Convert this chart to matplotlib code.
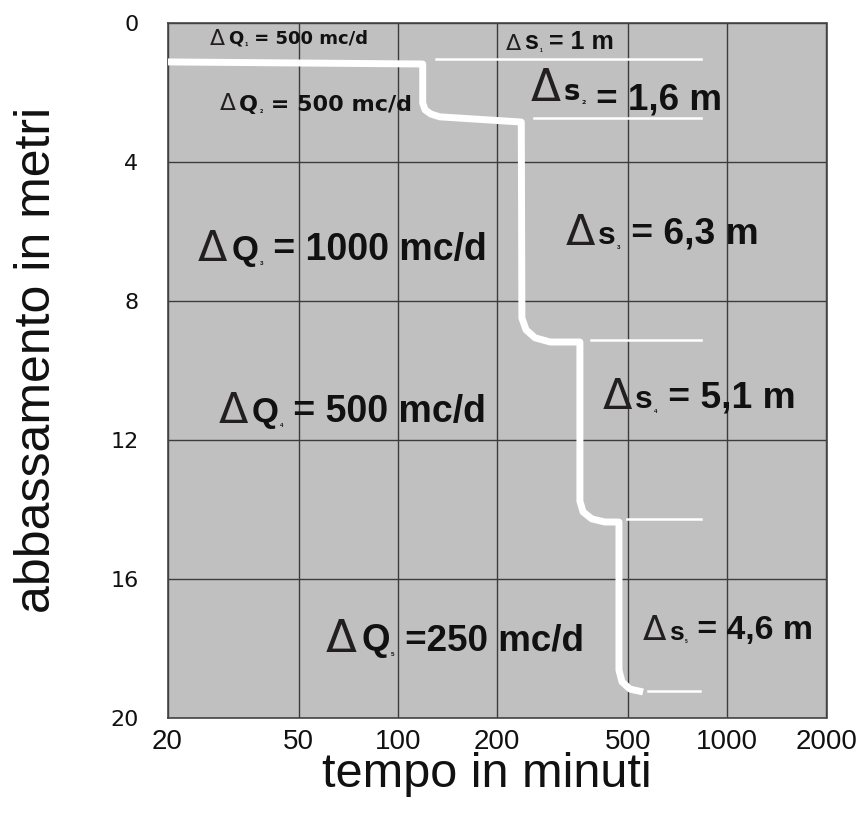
import numpy as np
import matplotlib.pyplot as plt
from matplotlib.ticker import FixedLocator, FixedFormatter, NullLocator

# stepped drawdown curve (tempo in minuti, abbassamento in metri)
tempo = [20, 119, 119, 121, 126, 134, 237, 238, 245, 261, 290, 357, 357, 365, 388, 425,
         469, 469, 479, 507, 555]
abbass = [1.12, 1.18, 2.30, 2.50, 2.62, 2.70, 2.85, 8.49, 8.83, 9.06, 9.18, 9.18, 13.76,
          14.07, 14.27, 14.36, 14.36, 18.62, 18.96, 19.17, 19.25]

# reference lines for each drawdown step
ds_start = [131, 259, 386, 496, 574]
ds_end = [832, 832, 832, 832, 826]
ds_level = [1.04, 2.73, 9.12, 14.27, 19.22]

x_ticks = [20, 50, 100, 200, 500, 1000, 2000]
y_ticks = [0, 4, 8, 12, 16, 20]

dq_sub = ['1', '2', '3', '4', '5']
dq_text = ['= 500 mc/d', '= 500 mc/d', '= 1000 mc/d', '= 500 mc/d', '=250 mc/d']
ds_sub = ['1', '2', '3', '4', '5']
ds_text = ['= 1 m', '= 1,6 m', '= 6,3 m', '= 5,1 m', '= 4,6 m']

DARK = '#231f20'
TXT = '#111111'
LIB = 'Liberation Sans'
DJV = 'DejaVu Sans'


def desc(fam):
    return 0.236 if fam == DJV else 0.212


def label(x, y, letter, sub, rest, d_size, l_size, l_fam, s_size, r_size, r_fam,
          r_shift=0, gap=2):
    # Δ + letter + tiny subscript + rest, chained left to right
    t = ax.text(x, y, '\u0394', fontsize=d_size, family=DJV, color=DARK,
                ha='left', va='baseline', zorder=5)
    pieces = [(letter, l_size, l_fam, 0, gap),
              (sub, s_size, l_fam, -0.14 * l_size, 1),
              (' ' + rest, r_size, r_fam, r_shift, 0)]
    prev, p_size, p_fam, p_shift = t, d_size, DJV, 0
    for s, size, fam, shift, g in pieces:
        dy = shift - p_shift + desc(p_fam) * p_size - desc(fam) * size
        t = ax.annotate(s, xy=(1, 0), xycoords=prev, xytext=(g, dy),
                        textcoords='offset points', ha='left', va='bottom',
                        fontsize=size, family=fam, fontweight='bold', color=TXT,
                        zorder=5)
        prev, p_size, p_fam, p_shift = t, size, fam, shift


fig = plt.figure(figsize=(8.61, 8.18), dpi=100)
ax = fig.add_axes([167.5 / 861, 1 - 718 / 818, 659 / 861, 695 / 818])
ax.set_facecolor('#c0c0c0')
ax.set_xscale('log')
ax.set_xlim(20, 2000)
ax.set_ylim(20, 0)
ax.xaxis.set_major_locator(FixedLocator(x_ticks))
ax.xaxis.set_major_formatter(FixedFormatter([str(v) for v in x_ticks]))
ax.xaxis.set_minor_locator(NullLocator())
ax.set_yticks(y_ticks)
ax.set_axisbelow(True)
ax.grid(True, color='#3c3c3c', lw=1.0)
ax.tick_params(axis='x', length=0, labelsize=20, pad=8)
ax.tick_params(axis='y', length=0, labelsize=16, pad=21)
for lb in ax.get_xticklabels():
    lb.set_family(LIB)
    lb.set_color(TXT)
for lb in ax.get_yticklabels():
    lb.set_color(TXT)
for sp in ax.spines.values():
    sp.set_color('#444444')
    sp.set_linewidth(1.2)

ax.plot(tempo, abbass, color='white', lw=5, solid_joinstyle='round',
        solid_capstyle='butt', zorder=3)
for a, b, lvl in zip(ds_start, ds_end, ds_level):
    ax.plot([a, b], [lvl, lvl], color='white', lw=1.8, zorder=3)

# ΔQ labels
label(26.9, 0.63, 'Q', dq_sub[0], dq_text[0], 15.8, 13, DJV, 3.5, 13, DJV)
label(28.9, 2.50, 'Q', dq_sub[1], dq_text[1], 16.8, 16, DJV, 3.5, 16, DJV)
label(24.75, 6.85, 'Q', dq_sub[2], dq_text[2], 31, 25, LIB, 4.5, 27, LIB, gap=3)
label(28.5, 11.51, 'Q', dq_sub[3], dq_text[3], 31, 25, LIB, 4.5, 27, LIB, gap=3)
label(60.6, 18.10, 'Q', dq_sub[4], dq_text[4], 32.6, 26.5, LIB, 4.5, 26.5, LIB, gap=3)

# Δs labels
label(213, 0.78, 's', ds_sub[0], ds_text[0], 16, 18, LIB, 3.5, 18, LIB)
label(253.7, 2.24, 's', ds_sub[1], ds_text[1], 31.6, 20, DJV, 4.5, 26.5, LIB, r_shift=-7)
label(324, 6.39, 's', ds_sub[2], ds_text[2], 31, 23, LIB, 4.5, 26.8, LIB)
label(419.6, 11.11, 's', ds_sub[3], ds_text[3], 31, 23, LIB, 4.5, 26.8, LIB)
label(554.8, 17.76, 's', ds_sub[4], ds_text[4], 24.7, 19, LIB, 3.5, 24.4, LIB)

fig.text(37 / 861, 1 - 360 / 818, 'abbassamento in metri', rotation=90,
         fontsize=36, family=LIB, ha='center', va='center', color=TXT)
fig.text(487 / 861, 1 - 787 / 818, 'tempo in minuti', fontsize=35,
         family=LIB, ha='center', va='baseline', color=TXT)

fig.savefig('out.png', dpi=100)
